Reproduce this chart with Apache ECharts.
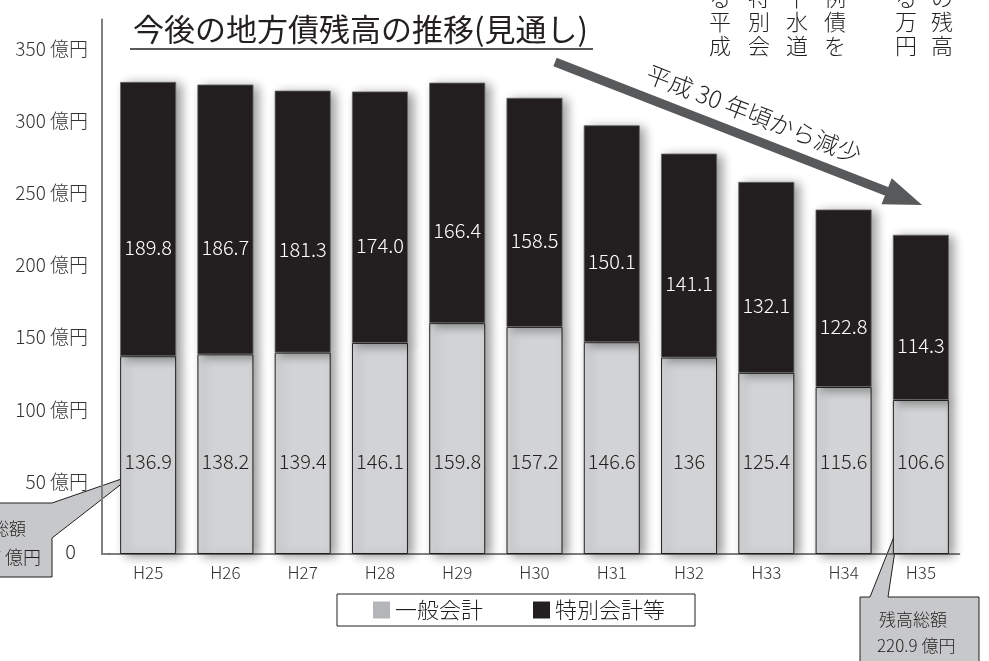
<!DOCTYPE html>
<html><head><meta charset="utf-8">
<script src="https://cdn.jsdelivr.net/npm/echarts@6/dist/echarts.min.js"></script>
<style>html,body{margin:0;padding:0;background:#fff}#c{width:989px;height:661px}</style>
</head><body><div id="c"></div>
<script>
const categories = ['H25','H26','H27','H28','H29','H30','H31','H32','H33','H34','H35'];
const generalAccount = [136.9,138.2,139.4,146.1,159.8,157.2,146.6,136,125.4,115.6,106.6];
const specialAccount = [189.8,186.7,181.3,174.0,166.4,158.5,150.1,141.1,132.1,122.8,114.3];
const seriesNames = ['一般会計','特別会計等'];
const titleText = '今後の地方債残高の推移(見通し)';
const arrowText = '平成 30 年頃から減少';
const calloutTitle = '残高総額';
const verticalColumns = [
  {x:720, t:'る\n平\n成'},
  {x:759, t:'特\n別\n会'},
  {x:797, t:'下\n水\n道'},
  {x:835, t:'例\n債\nを'},
  {x:906, t:'る\n万\n円'},
  {x:942, t:'の\n残\n高'}
];

const FONT = '"Noto Sans CJK JP","Noto Sans",sans-serif';
const INK = '#231f20';
const LW = 300;
const total = i => (generalAccount[i] + specialAccount[i]).toFixed(1) + ' 億円';

const chart = echarts.init(document.getElementById('c'), null, {renderer:'canvas'});

const graphics = [
  {type:'line', shape:{x1:130,y1:49,x2:593,y2:49}, style:{stroke:INK, lineWidth:1.5}},
  {type:'line', shape:{x1:101,y1:554,x2:110,y2:554}, style:{stroke:'#555', lineWidth:1.5}},
  // arrow
  {type:'line', shape:{x1:555,y1:62,x2:887,y2:191.5}, style:{stroke:'#58595b', lineWidth:9}},
  {type:'polygon', shape:{points:[[922,205],[881.5,204.2],[891.7,178.2]]}, style:{fill:'#58595b'}},
  {type:'text', x:754, y:114, rotation:-21.3*Math.PI/180,
   style:{text:arrowText, font:LW+' 24px '+FONT, fill:INK, align:'center', verticalAlign:'middle'}},
  // left callout
  {type:'polygon', shape:{points:[[-70,503],[52,503],[133,475],[52,538],[52,577],[-70,577]]},
   style:{fill:'#c7c8ca', stroke:INK, lineWidth:1}},
  {type:'text', x:-42, y:529, style:{text:calloutTitle, font:LW+' 17px '+FONT, fill:INK, align:'left', verticalAlign:'middle'}},
  {type:'text', x:-42, y:557, style:{text:total(0), font:LW+' 18px '+FONT, fill:INK, align:'left', verticalAlign:'middle'}},
  // right callout
  {type:'polygon', shape:{points:[[860,597],[870,597],[899,524],[888,597],[979,597],[979,700],[860,700]]},
   style:{fill:'#c7c8ca', stroke:INK, lineWidth:1}},
  {type:'text', x:879, y:620, style:{text:calloutTitle, font:LW+' 17px '+FONT, fill:INK, align:'left', verticalAlign:'middle'}},
  {type:'text', x:877, y:646, style:{text:total(categories.length-1), font:LW+' 17px '+FONT, fill:INK, align:'left', verticalAlign:'middle'}}
];
verticalColumns.forEach(c => graphics.push({
  type:'text', x:c.x, y:-14,
  style:{text:c.t, font:LW+' 22px '+FONT, fill:INK, align:'center', verticalAlign:'top', lineHeight:24}
}));

const option = {
  animation:false,
  backgroundColor:'#fff',
  textStyle:{fontFamily:FONT},
  title:{text:titleText, left:128, top:9,
    textStyle:{fontSize:31, fontWeight:'normal', color:INK, fontFamily:FONT}},
  grid:{left:109.5, right:29.5, top:19.4, bottom:107},
  legend:{
    data:[{name:seriesNames[0], itemStyle:{color:'#b3b5b8'}},{name:seriesNames[1], itemStyle:{color:INK}}],
    left:337, top:594, padding:[5,30,5,36], itemGap:50, itemWidth:17, itemHeight:17, icon:'rect',
    borderColor:INK, borderWidth:1,
    itemStyle:{borderWidth:0, shadowBlur:0, shadowOffsetX:0, shadowOffsetY:0},
    textStyle:{fontSize:22, fontWeight:LW, color:INK, fontFamily:FONT}
  },
  xAxis:{type:'category', data:categories,
    axisLine:{lineStyle:{color:'#555', width:1.5}}, axisTick:{show:false},
    axisLabel:{color:'#333', fontSize:17, fontWeight:LW, margin:10}},
  yAxis:{type:'value', min:0, max:370, interval:50, offset:7.5,
    axisLine:{show:true, lineStyle:{color:'#7f7f7f', width:2}}, axisTick:{show:false}, splitLine:{show:false},
    axisLabel:{color:'#333', fontSize:19, fontWeight:LW, margin:14,
      formatter: v => v === 0 ? '{z|0}' : (v % 50 === 0 ? v + ' 億円' : ''),
      rich:{z:{fontSize:20, fontWeight:LW, color:'#333', padding:[0,12,6,0]}}}},
  series:[
    {name:seriesNames[0], type:'bar', stack:'t', data:generalAccount, barWidth:56,
     itemStyle:{color:'#d1d3d4', borderColor:INK, borderWidth:1,
       shadowColor:'rgba(0,0,0,0.4)', shadowBlur:10, shadowOffsetX:5, shadowOffsetY:2},
     label:{show:true, position:'insideBottom', distance:83, color:INK, fontSize:20, fontWeight:LW}},
    {name:seriesNames[1], type:'bar', stack:'t', data:specialAccount, barWidth:56,
     itemStyle:{color:INK, borderColor:'#666', borderWidth:0.8,
       shadowColor:'rgba(0,0,0,0.4)', shadowBlur:10, shadowOffsetX:5, shadowOffsetY:2},
     label:{show:true, position:'inside', offset:[0,28], color:'#fff', fontSize:20, fontWeight:LW,
       formatter: p => Number(p.value).toFixed(1)}}
  ],
  graphic:graphics
};
chart.setOption(option);
</script></body></html>
